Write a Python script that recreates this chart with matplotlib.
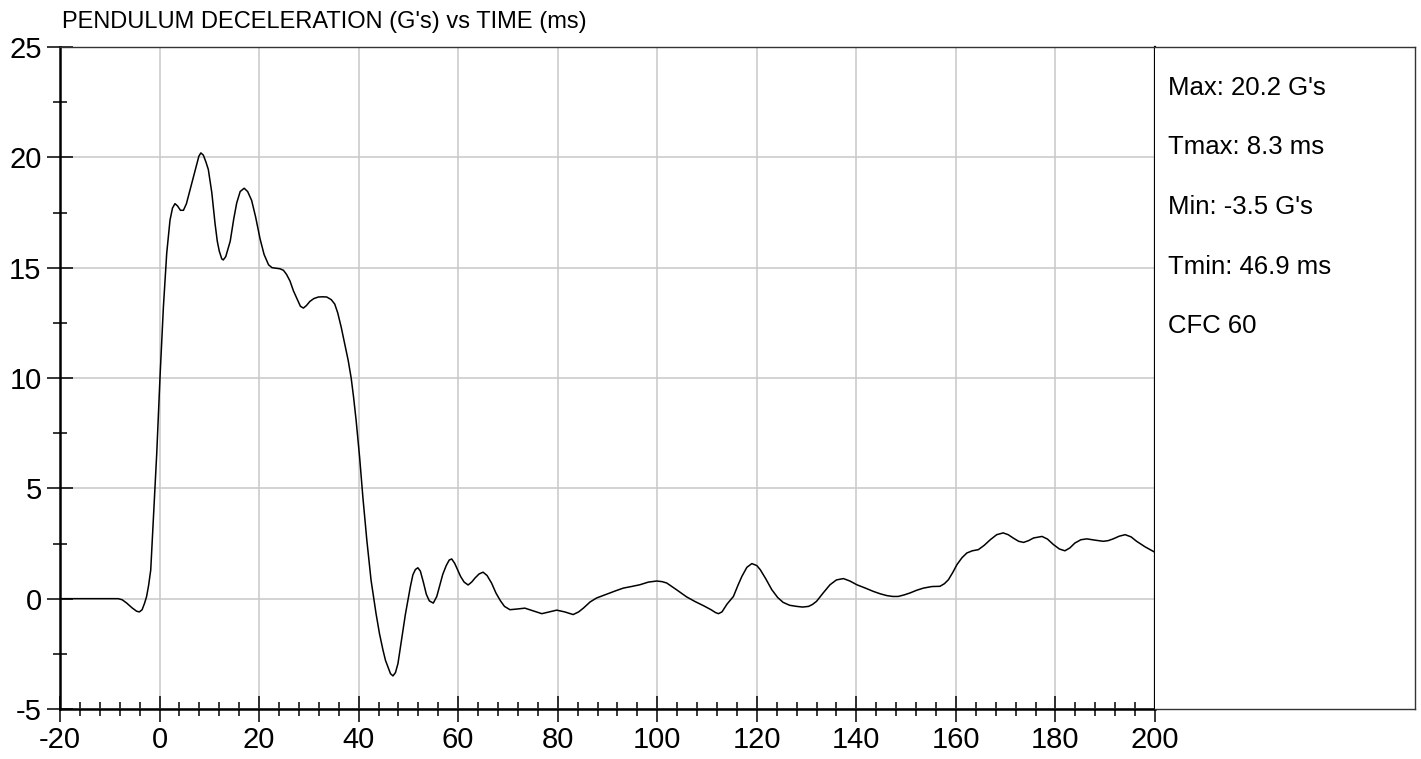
import matplotlib.pyplot as plt
from matplotlib.ticker import MultipleLocator

# time (ms) and deceleration (G's)
time_ms = [-20, -15, -10, -8.3, -7.5, -6.6, -5.5, -4.6, -4.05, -3.5, -3.0, -2.6, -2.2,
           -1.77, -1.25, -0.56, 0.1, 0.77, 1.44, 2.1, 2.6, 3.1, 3.6, 4.2, 4.8, 5.4,
           6.1, 6.8, 7.5, 7.9, 8.3, 8.8, 9.3, 9.8, 10.5, 11.15, 11.6, 12.0, 12.5,
           12.8, 13.3, 14.2, 14.9, 15.5, 16.2, 17.0, 17.7, 18.5, 19.3, 20.2, 21.0,
           21.9, 22.6, 23.2, 24.2, 24.9, 25.5, 26.2, 26.9, 27.6, 28.3, 28.9, 29.5,
           30.2, 31.0, 31.9, 32.8, 33.6, 34.5, 35.2, 35.8, 36.5, 37.2, 37.9, 38.5,
           39.0, 39.5, 40.2, 40.85, 41.65, 42.5, 43.5, 44.2, 44.9, 45.4, 45.9, 46.4,
           46.9, 47.4, 47.9, 48.4, 48.9, 49.4, 49.9, 50.4, 50.9, 51.4, 51.9, 52.4,
           53.0, 53.6, 54.2, 55.0, 55.7, 56.3, 56.9, 57.6, 58.2, 58.7, 59.3, 59.9,
           60.5, 61.2, 62.0, 62.7, 63.4, 64.2, 65.0, 65.8, 66.7, 67.6, 68.5, 69.3,
           70.4, 71.8, 73.4, 75.0, 76.8, 78.3, 79.8, 81.4, 83.1, 84.2, 85.2, 86.5,
           87.8, 89.2, 90.5, 91.8, 93.2, 94.8, 96.5, 98.2, 99.9, 101.0, 101.9, 103.9,
           105.9, 107.5, 109.3, 110.8, 111.7, 112.3, 113.0, 114.0, 115.3, 116.2,
           117.0, 118.0, 119.0, 120.0, 120.7, 121.8, 123.0, 124.2, 125.3, 126.6,
           128.0, 129.2, 130.4, 131.2, 132.0, 133.3, 134.7, 136.0, 137.4, 138.7,
           140.1, 141.8, 143.4, 144.8, 146.1, 147.3, 148.4, 149.6, 150.8, 152.1,
           153.5, 155.2, 156.8, 157.7, 158.5, 159.4, 160.2, 161.2, 162.2, 163.3,
           164.5, 165.7, 166.9, 168.2, 169.5, 170.5, 171.5, 172.6, 173.6, 174.6,
           175.6, 177.3, 178.4, 179.6, 180.8, 181.9, 182.9, 183.9, 185.1, 186.3,
           188.0, 189.6, 190.6, 191.6, 192.8, 194.0, 195.2, 196.3, 198.0, 199.7, 200]
decel_g = [0, 0, 0, 0, -0.05, -0.2, -0.42, -0.57, -0.6, -0.5, -0.2, 0.1, 0.6,
           1.3, 3.6, 6.6, 10.07, 13.2, 15.65, 17.15, 17.7, 17.9, 17.8, 17.6, 17.6, 17.9,
           18.5, 19.1, 19.7, 20.05, 20.2, 20.1, 19.8, 19.45, 18.4, 17.0, 16.2, 15.75, 15.4,
           15.35, 15.5, 16.2, 17.2, 17.93, 18.45, 18.6, 18.45, 18.05, 17.3, 16.3, 15.6,
           15.13, 15.0, 14.98, 14.95, 14.88, 14.7, 14.4, 13.95, 13.6, 13.25, 13.17, 13.28,
           13.47, 13.6, 13.67, 13.68, 13.67, 13.55, 13.35, 12.95, 12.3, 11.54, 10.8, 10.0,
           9.1, 8.07, 6.4, 4.6, 2.64, 0.83, -0.68, -1.6, -2.34, -2.8, -3.1, -3.4,
           -3.5, -3.35, -2.94, -2.2, -1.43, -0.7, -0.08, 0.55, 1.08, 1.32, 1.4, 1.25,
           0.75, 0.2, -0.1, -0.2, 0.1, 0.6, 1.1, 1.5, 1.75, 1.8, 1.6, 1.3,
           1.0, 0.75, 0.62, 0.75, 0.94, 1.12, 1.2, 1.05, 0.71, 0.25, -0.1, -0.35,
           -0.5, -0.47, -0.43, -0.55, -0.68, -0.6, -0.52, -0.6, -0.72, -0.6, -0.42, -0.15,
           0.03, 0.15, 0.26, 0.37, 0.48, 0.55, 0.63, 0.75, 0.8, 0.77, 0.71, 0.4,
           0.08, -0.12, -0.32, -0.5, -0.63, -0.68, -0.6, -0.25, 0.1, 0.6,
           1.01, 1.42, 1.59, 1.5, 1.31, 0.9, 0.41, 0.05, -0.17, -0.3,
           -0.35, -0.38, -0.35, -0.26, -0.12, 0.25, 0.63, 0.85, 0.91, 0.8,
           0.63, 0.48, 0.33, 0.22, 0.14, 0.1, 0.1, 0.17, 0.26, 0.38,
           0.48, 0.55, 0.56, 0.68, 0.86, 1.2, 1.54, 1.85, 2.07, 2.17,
           2.22, 2.42, 2.67, 2.9, 2.98, 2.9, 2.75, 2.6, 2.55, 2.63,
           2.75, 2.82, 2.7, 2.45, 2.25, 2.17, 2.3, 2.52, 2.67, 2.71,
           2.65, 2.6, 2.63, 2.71, 2.83, 2.9, 2.8, 2.6, 2.35, 2.14, 2.1]

stats = ["Max: 20.2 G's", "Tmax: 8.3 ms", "Min: -3.5 G's", "Tmin: 46.9 ms", "CFC 60"]

plt.rcParams['font.family'] = ['Liberation Sans', 'DejaVu Sans']
plt.rcParams['axes.unicode_minus'] = False

W, H = 1421, 759
fig = plt.figure(figsize=(W / 100, H / 100), dpi=100)
ax = fig.add_axes([60 / W, (H - 709) / H, (1155 - 60) / W, (709 - 47) / H])

ax.plot(time_ms, decel_g, color='black', lw=1.1, solid_joinstyle='round')
ax.set_xlim(-20, 200)
ax.set_ylim(-5, 25)

ax.xaxis.set_major_locator(MultipleLocator(20))
ax.xaxis.set_minor_locator(MultipleLocator(4))
ax.yaxis.set_major_locator(MultipleLocator(5))
ax.yaxis.set_minor_locator(MultipleLocator(2.5))
ax.grid(True, which='major', color='#c8c8c8', lw=1.1)
ax.set_axisbelow(True)

ax.tick_params(which='major', direction='inout', length=18.5, width=1.1,
               labelsize=21, color='black')
ax.tick_params(which='minor', direction='inout', length=9.5, width=1.1, color='black')
ax.tick_params(axis='x', which='major', pad=3)
ax.tick_params(axis='y', which='major', pad=4)

for side in ['left', 'bottom']:
    ax.spines[side].set_linewidth(1.8)
    ax.spines[side].set_color('black')
ax.spines['right'].set_linewidth(1.6)
ax.spines['right'].set_color('black')
ax.spines['top'].set_linewidth(1.0)
ax.spines['top'].set_color('#333333')

fig.text(62 / W, 1 - 28 / H, "PENDULUM DECELERATION (G's) vs TIME (ms)",
         fontsize=17, ha='left', va='baseline')

box = fig.add_axes([1155 / W, (H - 709) / H, (1415 - 1155) / W, (709 - 47) / H])
box.set_xticks([])
box.set_yticks([])
for side in box.spines:
    box.spines[side].set_color('#333333')
    box.spines[side].set_linewidth(1.0)
box.spines['left'].set_visible(False)
for i, s in enumerate(stats):
    box.text(13 / 260, 1 - (41 + 59.5 * i) / 662, s, transform=box.transAxes,
             fontsize=18.5, ha='left', va='center')

fig.savefig('out.png', dpi=100)
